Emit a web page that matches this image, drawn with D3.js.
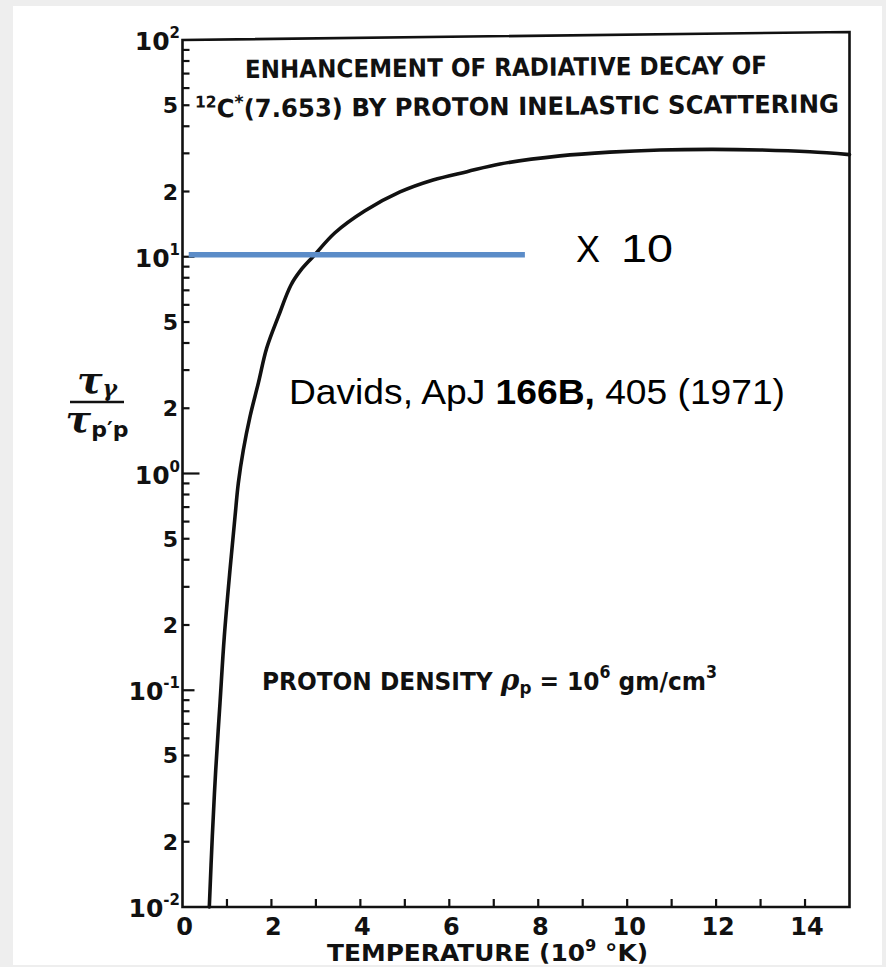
<!DOCTYPE html>
<html>
<head>
<meta charset="utf-8">
<script src="https://cdn.jsdelivr.net/npm/d3@7"></script>
<style>
  html, body { margin: 0; padding: 0; background: #eeeeee; }
  svg { display: block; }
  .lbl { font-family: "DejaVu Sans", "Liberation Sans", sans-serif; font-weight: bold; fill: #111; }
  .note { font-family: "Liberation Sans", Arial, sans-serif; fill: #000; }
</style>
</head>
<body>
<script>
// Temperature (10^9 K) and ratio tau_gamma / tau_p'p along the curve
const temperature = [0.603, 0.670, 0.747, 0.843, 0.940, 1.068, 1.181, 1.255, 1.367, 1.518, 1.705, 1.894, 2.154, 2.440, 2.665, 2.934, 3.429, 4.104, 4.891, 5.633, 6.398, 7.140, 8.49, 9.61, 10.74, 11.93, 12.99, 14.11, 15.0];
const ratio       = [0.0100, 0.0211, 0.0428, 0.0871, 0.177, 0.359, 0.632, 0.901, 1.28, 1.83, 2.61, 3.79, 5.29, 7.41, 8.69, 10.0, 12.9, 16.3, 19.9, 22.6, 24.7, 26.8, 29.2, 30.4, 31.1, 31.3, 31.1, 30.5, 29.6];

// Horizontal reference marker ("X 10")
const markerSpan = [0.14, 7.7];
const markerValue = 10;

// Axis tick labels
const xTickLabels = [0, 2, 4, 6, 8, 10, 12, 14];
const yDecades = [-2, -1, 0, 1, 2];
const yMinorLabels = [2, 5];

const W = 886, H = 967;
const svg = d3.select("body").append("svg").attr("width", W).attr("height", H);

// white sheet
svg.append("rect").attr("x", 13).attr("y", 6).attr("width", 869).attr("height", 959).attr("fill", "#ffffff");

const x = d3.scaleLinear().domain([0, 15]).range([182.5, 849.5]);
const y = d3.scaleLog().domain([0.01, 100]).range([907, 40]);

const ink = "#111";

// frame
const frame = svg.append("g").attr("fill", "none").attr("stroke", ink).attr("stroke-width", 2.6).attr("stroke-linecap", "square");
frame.append("path").attr("d", d3.line()([
  [x(15), y(0.01)], [x(0), y(0.01)], [x(0), y(100)], [x(15), y(100) - 8], [x(15), y(0.01)]
]));

// x ticks (inward)
const xt = svg.append("g").attr("stroke", ink).attr("stroke-width", 2.2);
d3.range(1, 15).forEach(v => {
  xt.append("line").attr("x1", x(v)).attr("x2", x(v)).attr("y1", y(0.01)).attr("y2", y(0.01) - 8);
});

// y ticks (inward)
const yt = svg.append("g").attr("stroke", ink).attr("stroke-width", 2.2);
yDecades.forEach(d => {
  const base = Math.pow(10, d);
  if (d > -2 && d < 2) {
    const len = d === 0 ? 17 : 12;
    yt.append("line").attr("x1", x(0)).attr("x2", x(0) + len).attr("y1", y(base)).attr("y2", y(base));
  }
  if (d < 2) {
    for (let m = 2; m <= 9; m++) {
      const v = m * base;
      yt.append("line").attr("x1", x(0)).attr("x2", x(0) + 7).attr("y1", y(v)).attr("y2", y(v));
    }
  }
});

// x tick labels
svg.append("g").selectAll("text").data(xTickLabels).join("text")
  .attr("class", "lbl")
  .attr("x", d => x(d) + 2)
  .attr("y", 935)
  .attr("text-anchor", "middle")
  .attr("font-size", 24)
  .text(d => d);

// y decade labels 10^n
const yl = svg.append("g");
yDecades.forEach(d => {
  const t = yl.append("text").attr("class", "lbl").attr("font-size", 25)
    .attr("text-anchor", "end").attr("x", 180).attr("y", y(Math.pow(10, d)) + 10);
  t.append("tspan").text("10");
  t.append("tspan").attr("font-size", 15).attr("dy", -12).text(d);
});
// y minor labels 2 and 5
yDecades.slice(0, 4).forEach(d => {
  yMinorLabels.forEach(m => {
    const v = m * Math.pow(10, d);
    yl.append("text").attr("class", "lbl").attr("font-size", 22)
      .attr("text-anchor", "end").attr("x", 178).attr("y", y(v) + 8).text(m);
  });
});

// y axis title: tau_gamma / tau_p'p
const ya = svg.append("g").attr("transform", "translate(97,0)");
ya.append("line").attr("x1", -27).attr("x2", 27).attr("y1", 402).attr("y2", 402)
  .attr("stroke", ink).attr("stroke-width", 2.4);
const num = ya.append("text").attr("text-anchor", "middle").attr("y", 393)
  .attr("font-family", "DejaVu Serif, serif").attr("font-style", "italic").attr("font-weight", "bold").attr("fill", ink);
num.append("tspan").attr("font-size", 38).text("τ");
num.append("tspan").attr("font-size", 22).attr("dy", 3).text("γ");
const den = ya.append("text").attr("text-anchor", "middle").attr("y", 432)
  .attr("font-family", "DejaVu Serif, serif").attr("font-style", "italic").attr("font-weight", "bold").attr("fill", ink);
den.append("tspan").attr("font-size", 38).text("τ");
den.append("tspan").attr("font-size", 22).attr("dy", 5).attr("font-family", "DejaVu Sans, sans-serif").attr("font-style", "normal").text("p′p");

// x axis title
const xa = svg.append("text").attr("class", "lbl").attr("x", 327).attr("y", 961).attr("font-size", 23)
  .attr("textLength", 321).attr("lengthAdjust", "spacingAndGlyphs");
xa.append("tspan").text("TEMPERATURE  (10");
xa.append("tspan").attr("font-size", 15).attr("dy", -10).text("9");
xa.append("tspan").attr("dy", 10).text(" °K)");

// title lines
svg.append("text").attr("class", "lbl").attr("x", 245).attr("y", 76).attr("font-size", 25)
  .attr("textLength", 522).attr("lengthAdjust", "spacingAndGlyphs")
  .attr("transform", "rotate(-0.45 506 74)")
  .text("ENHANCEMENT OF RADIATIVE DECAY OF");
const t2 = svg.append("text").attr("class", "lbl").attr("x", 195).attr("y", 115).attr("font-size", 25)
  .attr("textLength", 644).attr("lengthAdjust", "spacingAndGlyphs")
  .attr("transform", "rotate(-0.45 517 113)");
t2.append("tspan").attr("font-size", 16).attr("dy", -10).text("12");
t2.append("tspan").attr("dy", 10).text("C");
t2.append("tspan").attr("font-size", 18).attr("dy", -9).text("*");
t2.append("tspan").attr("dy", 9).text("(7.653)  BY  PROTON  INELASTIC  SCATTERING");

// density note
const dn = svg.append("text").attr("class", "lbl").attr("x", 262).attr("y", 690).attr("font-size", 25)
  .attr("textLength", 455).attr("lengthAdjust", "spacingAndGlyphs");
dn.append("tspan").text("PROTON  DENSITY ");
dn.append("tspan").attr("font-family", "DejaVu Serif, serif").attr("font-style", "italic").attr("font-size", 30).text("ρ");
dn.append("tspan").attr("font-size", 18).attr("dy", 4).text("p");
dn.append("tspan").attr("dy", -4).text(" = 10");
dn.append("tspan").attr("font-size", 17).attr("dy", -12).text("6");
dn.append("tspan").attr("dy", 12).text(" gm/cm");
dn.append("tspan").attr("font-size", 17).attr("dy", -12).text("3");

// curve
const pts = temperature.map((t, i) => [t, ratio[i]]);
svg.append("path").datum(pts)
  .attr("fill", "none").attr("stroke", ink).attr("stroke-width", 3.6).attr("stroke-linecap", "round")
  .attr("d", d3.line().x(d => x(d[0])).y(d => y(d[1])).curve(d3.curveCatmullRom.alpha(0.5)));

// marker line
svg.append("line")
  .attr("x1", x(markerSpan[0])).attr("x2", x(markerSpan[1]))
  .attr("y1", y(markerValue) - 2).attr("y2", y(markerValue) - 2)
  .attr("stroke", "#5b8cc8").attr("stroke-width", 5.5);

// "X 10" annotation
const xm = svg.append("text").attr("class", "note").attr("x", 576).attr("y", 262).attr("font-size", 36);
xm.append("tspan").text("X");
xm.append("tspan").attr("x", 621).attr("font-size", 38).attr("textLength", 52).attr("lengthAdjust", "spacingAndGlyphs").text("10");

// citation
const cite = svg.append("text").attr("class", "note").attr("x", 289).attr("y", 404).attr("font-size", 35)
  .attr("textLength", 496).attr("lengthAdjust", "spacingAndGlyphs");
cite.append("tspan").text("Davids, ApJ ");
cite.append("tspan").attr("font-weight", "bold").text("166B,");
cite.append("tspan").text(" 405 (1971)");
</script>
</body>
</html>
